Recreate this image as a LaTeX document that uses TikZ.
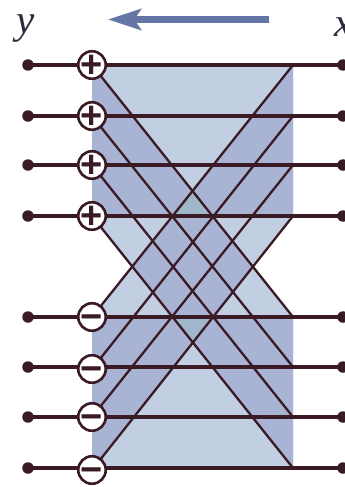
\documentclass[tikz,border=0pt]{standalone}
\usepackage{fontspec}
\setmainfont{Liberation Serif}
\newfontfamily\signfont{Liberation Sans}
\usetikzlibrary{arrows.meta,backgrounds}
\definecolor{wire}{HTML}{3A1A25}
\definecolor{lightband}{HTML}{C2CEE1}
\definecolor{darkband}{HTML}{A9B3D3}
\definecolor{overlap}{HTML}{9FB6CB}
\definecolor{flow}{HTML}{6476A6}
\definecolor{labelink}{HTML}{2A2A3C}
\newcommand{\signmark}[1]{\raisebox{-12.5pt}[0pt][0pt]{#1}}
\tikzset{
  x=1pt,y=-1pt,
  dotend/.style={circle,fill=wire,inner sep=0pt,outer sep=0pt,minimum size=11.5pt},
  signnode/.style={circle,draw=wire,line width=2.6pt,fill=white,inner sep=0pt,outer sep=0pt,minimum size=27.5pt,
    text=wire,font=\signfont\bfseries\fontsize{38}{38}\selectfont},
  wireline/.style={draw=wire,line width=3.4pt},
  crossline/.style={draw=wire,line width=2.3pt},
  varlabel/.style={inner sep=0pt,text=labelink,font=\itshape\fontsize{41}{41}\selectfont},
  flowarrow/.style={draw=flow,line width=7pt,-{Stealth[length=33pt,width=21pt,inset=7pt]}},
}
\begin{document}
\begin{tikzpicture}
\useasboundingbox (0,0) rectangle (345,487);
\clip (0,0) rectangle (345,487);
% rows
\foreach \i/\yy in {1/65,2/116,3/165,4/216,5/317,6/367,7/417,8/468}{
  \node[dotend] (L\i) at (28,\yy) {};
  \node[dotend] (R\i) at (343,\yy) {};
  \coordinate (T\i) at (293,\yy);
}
\node[signnode] (S1) at (92,65) {\signmark{+}};
\node[signnode] (S2) at (92,116) {\signmark{+}};
\node[signnode] (S3) at (92,165) {\signmark{+}};
\node[signnode] (S4) at (92,216) {\signmark{+}};
\node[signnode] (S5) at (92,317) {\signmark{−}};
\node[signnode] (S6) at (92,369) {\signmark{−}};
\node[signnode] (S7) at (92,417) {\signmark{−}};
\node[signnode] (S8) at (92,470) {\signmark{−}};
\node[varlabel] (ylab) at (26,29) {y};
\node[varlabel] (xlab) at (344,27) {x};
\coordinate (arrowstart) at (269,19.5);
\coordinate (arrowend) at (108,19.5);
\draw[flowarrow] (arrowstart) -- (arrowend);
\begin{pgfonlayer}{background}
  % shading
  \fill[lightband] (92,65) -- (293,65) -- (293,216) -- (253,266.5) -- (293,317) -- (293,468)
    -- (92,468) -- (92,317) -- (132,266.5) -- (92,216) -- cycle;
  \fill[darkband] (92,65) -- (192.5,191) -- (293,65) -- (293,216) -- (92,216) -- cycle;
  \fill[darkband] (92,468) -- (192.5,342) -- (293,468) -- (293,317) -- (92,317) -- cycle;
  \fill[darkband] (172,216) -- (212,216) -- (232.5,241) -- (253,266.5) -- (232.5,292) -- (212,317)
    -- (172,317) -- (152,292) -- (132,266.5) -- (152,241) -- cycle;
  \fill[overlap] (172,216) -- (212,216) -- (192.5,191) -- cycle;
  \fill[overlap] (172,317) -- (212,317) -- (192.5,342) -- cycle;
  % connectors
  \foreach \i in {1,...,8}{ \draw[wireline] (L\i.center) -- (R\i.center); }
  \foreach \a/\b in {1/5,2/6,3/7,4/8,5/1,6/2,7/3,8/4}{ \draw[crossline] (S\a.center) -- (T\b); }
\end{pgfonlayer}
\end{tikzpicture}
\end{document}
